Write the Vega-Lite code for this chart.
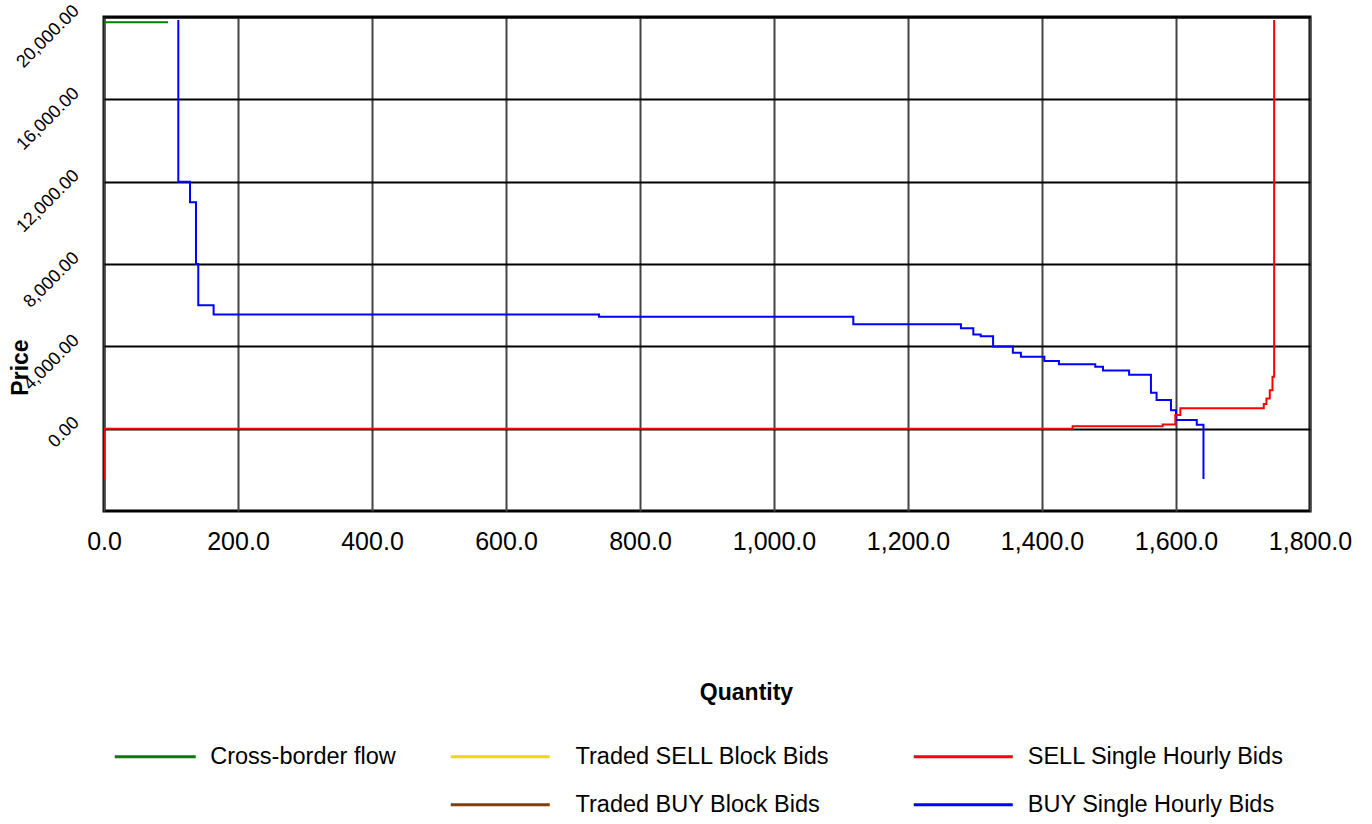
{
  "$schema": "https://vega.github.io/schema/vega-lite/v6.json",
  "width": 1206,
  "height": 494,
  "autosize": {"type": "none"},
  "padding": {"left": 104, "top": 17, "right": 62, "bottom": 313},
  "background": "white",
  "config": {
    "font": "Liberation Sans",
    "view": {"stroke": "#000", "strokeWidth": 3},
    "legend": {
      "orient": "none",
      "direction": "vertical",
      "symbolType": "M-2,0L2,0",
      "symbolStrokeWidth": 3,
      "labelFont": "Liberation Sans",
      "labelFontSize": 23.5,
      "labelColor": "#000",
      "labelLimit": 0,
      "rowPadding": 10
    }
  },
  "data": {
    "values": [
      {"series": "Cross-border flow", "i": 1, "q": 0, "p": 19750},
      {"series": "Cross-border flow", "i": 2, "q": 95.5, "p": 19750},

      {"series": "BUY Single Hourly Bids", "i": 1, "q": 110.9, "p": 19850},
      {"series": "BUY Single Hourly Bids", "i": 2, "q": 110.9, "p": 12000},
      {"series": "BUY Single Hourly Bids", "i": 3, "q": 128.4, "p": 11000},
      {"series": "BUY Single Hourly Bids", "i": 4, "q": 137.3, "p": 8000},
      {"series": "BUY Single Hourly Bids", "i": 5, "q": 140.7, "p": 6000},
      {"series": "BUY Single Hourly Bids", "i": 6, "q": 163.6, "p": 5550},
      {"series": "BUY Single Hourly Bids", "i": 7, "q": 738.8, "p": 5440},
      {"series": "BUY Single Hourly Bids", "i": 8, "q": 1118.4, "p": 5070},
      {"series": "BUY Single Hourly Bids", "i": 9, "q": 1279, "p": 4875},
      {"series": "BUY Single Hourly Bids", "i": 10, "q": 1297.5, "p": 4580},
      {"series": "BUY Single Hourly Bids", "i": 11, "q": 1308.5, "p": 4490},
      {"series": "BUY Single Hourly Bids", "i": 12, "q": 1327, "p": 3990},
      {"series": "BUY Single Hourly Bids", "i": 13, "q": 1356.5, "p": 3690},
      {"series": "BUY Single Hourly Bids", "i": 14, "q": 1368.5, "p": 3500},
      {"series": "BUY Single Hourly Bids", "i": 15, "q": 1403.5, "p": 3290},
      {"series": "BUY Single Hourly Bids", "i": 16, "q": 1425.3, "p": 3125},
      {"series": "BUY Single Hourly Bids", "i": 17, "q": 1479.5, "p": 3010},
      {"series": "BUY Single Hourly Bids", "i": 18, "q": 1491, "p": 2820},
      {"series": "BUY Single Hourly Bids", "i": 19, "q": 1530, "p": 2625},
      {"series": "BUY Single Hourly Bids", "i": 20, "q": 1562.6, "p": 1750},
      {"series": "BUY Single Hourly Bids", "i": 21, "q": 1571, "p": 1390},
      {"series": "BUY Single Hourly Bids", "i": 22, "q": 1592.5, "p": 890},
      {"series": "BUY Single Hourly Bids", "i": 23, "q": 1600, "p": 420},
      {"series": "BUY Single Hourly Bids", "i": 24, "q": 1631, "p": 195},
      {"series": "BUY Single Hourly Bids", "i": 25, "q": 1641, "p": -2450},

      {"series": "SELL Single Hourly Bids", "i": 1, "q": 0, "p": -2460},
      {"series": "SELL Single Hourly Bids", "i": 2, "q": 0, "p": 0},
      {"series": "SELL Single Hourly Bids", "i": 3, "q": 1445.7, "p": 112},
      {"series": "SELL Single Hourly Bids", "i": 4, "q": 1580, "p": 200},
      {"series": "SELL Single Hourly Bids", "i": 5, "q": 1599, "p": 670},
      {"series": "SELL Single Hourly Bids", "i": 6, "q": 1606.5, "p": 987},
      {"series": "SELL Single Hourly Bids", "i": 7, "q": 1731, "p": 1200},
      {"series": "SELL Single Hourly Bids", "i": 8, "q": 1735, "p": 1465},
      {"series": "SELL Single Hourly Bids", "i": 9, "q": 1740, "p": 1870},
      {"series": "SELL Single Hourly Bids", "i": 10, "q": 1744, "p": 2527},
      {"series": "SELL Single Hourly Bids", "i": 11, "q": 1746.5, "p": 19850}
    ]
  },
  "encoding": {
    "x": {
      "field": "q",
      "type": "quantitative",
      "scale": {"domain": [0, 1800], "nice": false, "zero": false},
      "axis": {
        "title": "Quantity",
        "titleFont": "Liberation Sans",
        "titleFontSize": 23,
        "titleFontWeight": "bold",
        "titleColor": "#000",
        "titleX": 642,
        "titleY": 181,
        "titleBaseline": "middle",
        "titleAlign": "center",
        "values": [0, 200, 400, 600, 800, 1000, 1200, 1400, 1600, 1800],
        "format": ",.1f",
        "labelFont": "Liberation Sans",
        "labelFontSize": 25,
        "labelColor": "#000",
        "labelPadding": 18,
        "labelOverlap": false,
        "labelFlush": false,
        "domain": false,
        "ticks": false,
        "tickSize": 0,
        "grid": true,
        "gridColor": "#444",
        "gridWidth": 2,
        "gridOpacity": 1
      }
    },
    "y": {
      "field": "p",
      "type": "quantitative",
      "scale": {"domain": [-4000, 20000], "nice": false, "zero": false},
      "axis": {
        "title": "Price",
        "titleFont": "Liberation Sans",
        "titleFontSize": 23,
        "titleFontWeight": "bold",
        "titleColor": "#000",
        "titleAngle": -90,
        "titleX": -84,
        "titleY": 350,
        "titleBaseline": "middle",
        "titleAlign": "center",
        "values": [0, 4000, 8000, 12000, 16000, 20000],
        "format": ",.2f",
        "labelFont": "Liberation Sans",
        "labelFontSize": 18,
        "labelColor": "#000",
        "labelAngle": -45,
        "labelAlign": "right",
        "labelBaseline": "middle",
        "labelPadding": 28,
        "labelOffset": -9,
        "labelOverlap": false,
        "labelFlush": false,
        "domain": false,
        "ticks": false,
        "tickSize": 0,
        "grid": true,
        "gridColor": "#000",
        "gridWidth": 2,
        "gridOpacity": 1
      }
    },
    "order": {"field": "i", "type": "quantitative"}
  },
  "layer": [
    {
      "transform": [{"filter": "datum.series === 'Cross-border flow'"}],
      "mark": {"type": "line", "interpolate": "step-after", "strokeWidth": 2, "clip": true},
      "encoding": {
        "color": {
          "field": "series",
          "type": "nominal",
          "scale": {"domain": ["Cross-border flow"], "range": ["#008000"]},
          "legend": {"title": null, "legendX": 29.25, "legendY": 717.75, "symbolSize": 1640.25, "labelOffset": 33}
        }
      }
    },
    {
      "transform": [{"filter": "datum.series === 'Traded SELL Block Bids' || datum.series === 'Traded BUY Block Bids'"}],
      "mark": {"type": "line", "interpolate": "step-after", "strokeWidth": 2, "clip": true},
      "encoding": {
        "color": {
          "field": "series",
          "type": "nominal",
          "scale": {"domain": ["Traded SELL Block Bids", "Traded BUY Block Bids"], "range": ["#f0d800", "#8b3a00"]},
          "legend": {"title": null, "legendX": 369.75, "legendY": 713.25, "symbolSize": 2450.25, "labelOffset": 48.75}
        }
      }
    },
    {
      "transform": [{"filter": "datum.series === 'SELL Single Hourly Bids' || datum.series === 'BUY Single Hourly Bids'"}],
      "mark": {"type": "line", "interpolate": "step-after", "strokeWidth": 2, "clip": true},
      "encoding": {
        "color": {
          "field": "series",
          "type": "nominal",
          "scale": {"domain": ["SELL Single Hourly Bids", "BUY Single Hourly Bids"], "range": ["#ff0000", "#0000ff"]},
          "legend": {"title": null, "legendX": 832.75, "legendY": 713.25, "symbolSize": 2450.25, "labelOffset": 38}
        }
      }
    }
  ],
  "resolve": {"scale": {"color": "independent"}}
}
